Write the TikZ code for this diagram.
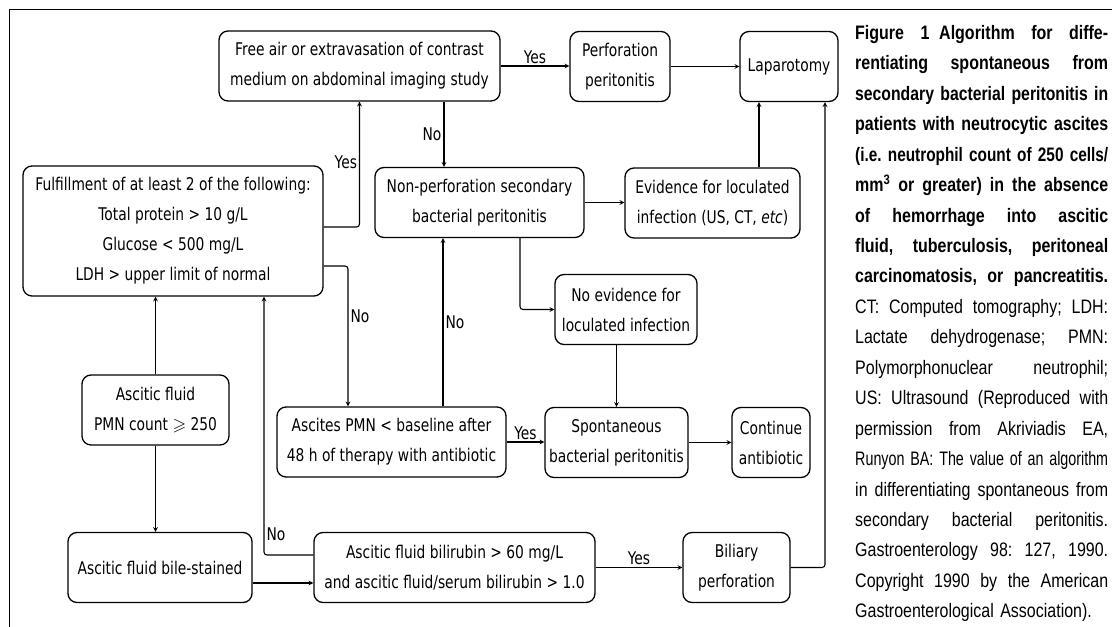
\documentclass[tikz,border=0pt]{standalone}
\usepackage{fontspec}
\usepackage{amssymb}
\usepackage{graphicx}
\setmainfont{DejaVu Sans}[FakeStretch=0.79]
\newfontfamily\capfont{Liberation Sans}[FakeStretch=0.82]
\newlength\capw
\setlength\capw{253pt}
\newsavebox\capbox
\newcommand\capline[1]{\sbox\capbox{#1}\hbox to\capw{\ifdim\wd\capbox>\capw
  \resizebox{\capw}{\height}{\usebox\capbox}\else
  \spaceskip=0.25em plus 1fil\relax #1\fi}}
\tikzset{box/.style={draw, rounded corners=9pt, line width=1.3pt, align=center,
   inner sep=2pt, minimum height=70pt},
 link/.style={->, line width=1.1pt, rounded corners=3pt},
 lbl/.style={inner sep=2pt},
 capt/.style={anchor=north west, inner sep=0pt, text width=\capw,
   font=\capfont\fontsize{19.5}{30.45}\selectfont\frenchspacing},
}

\begin{document}
\begin{tikzpicture}[x=1pt, y=-1pt, >=stealth,
    every node/.style={font=\fontsize{17.5}{30}\selectfont}]
    \useasboundingbox (0,0) rectangle (1112,627);
    \draw[line width=1.5pt] (9.5,627) -- (9.5,9.5) -- (1112,9.5);

    \node[box, minimum width=281pt] (free) at (359.5,66) {Free air or extravasation of contrast\\medium on abdominal imaging study};
    \node[box, minimum width=100pt] (perf) at (620,66.5) {Perforation\\peritonitis};
    \node[box, minimum width=98pt] (lap) at (789,66.5) {Laparotomy};
    \node[box, minimum width=300pt, minimum height=130pt] (crit) at (173,231) {Fulfillment of at least 2 of the following:\\Total protein > 10 g/L\\Glucose < 500 mg/L\\LDH > upper limit of normal};
    \node[box, minimum width=209pt] (nonperf) at (479.5,202.5) {Non-perforation secondary\\bacterial peritonitis};
    \node[box, minimum width=175pt] (evid) at (712.5,203) {Evidence for loculated\\infection (US, CT, \textit{etc})};
    \node[box, minimum width=142pt] (noevid) at (626,309.5) {No evidence for\\loculated infection};
    \node[box, minimum width=147pt] (pmn) at (155.5,410) {Ascitic fluid\\PMN count $\geqslant$ 250};
    \node[box, minimum width=229pt] (repeat) at (391.5,442) {Ascites PMN < baseline after\\48 h of therapy with antibiotic};
    \node[box, minimum width=143pt] (sbp) at (616.5,442.5) {Spontaneous\\bacterial peritonitis};
    \node[box, minimum width=78pt] (cont) at (771,442.5) {Continue\\antibiotic};
    \node[box, minimum width=184pt] (bile) at (160,567.5) {Ascitic fluid bile-stained};
    \node[box, minimum width=281pt] (bili) at (454.5,567.5) {Ascitic fluid bilirubin > 60 mg/L\\and ascitic fluid/serum bilirubin > 1.0};
    \node[box, minimum width=107pt] (biliary) at (736.5,567.5) {Biliary\\perforation};

    \draw[link] (free.east) -- node[lbl, above] {Yes} (free.east -| perf.west);
    \draw[link] (perf) -- (lap);
    \draw[link] ([yshift=4pt]crit.east) -| node[lbl, pos=0.76, left] {Yes} (free.south);
    \draw[link] ([yshift=-35pt]crit.east) -| node[lbl, pos=0.68, right] {No} ([xshift=-43.5pt]repeat.north);
    \draw[link] ([xshift=84.5pt]free.south) -- node[lbl, left] {No} ([xshift=84.5pt]free.south |- nonperf.north);
    \draw[link] (nonperf.east) -- (nonperf.east -| evid.west);
    \draw[link] ([xshift=46.5pt]evid.north) -- ([xshift=46.5pt]evid.north |- lap.south);
    \draw[link] ([xshift=40.5pt]nonperf.south) |- (noevid.west);
    \draw[link] (noevid.south -| sbp.north) -- (sbp.north);
    \draw[link] ([xshift=51.5pt]repeat.north) -- node[lbl, right] {No} ([xshift=51.5pt]repeat.north |- nonperf.south);
    \draw[link] (repeat.east) -- node[lbl, above] {Yes} (repeat.east -| sbp.west);
    \draw[link] (sbp) -- (cont);
    \draw[link] (pmn.north) -- (pmn.north |- crit.south);
    \draw[link] (pmn.south) -- (pmn.south |- bile.north);
    \draw[link] ([yshift=-15.5pt]bile.east) -- ([yshift=-15.5pt]bile.east -| bili.west);
    \draw[link] ([yshift=12.5pt]bili.west) -| node[lbl, pos=0.54, right] {No} ([xshift=91pt]crit.south);
    \draw[link] (bili) -- node[lbl, above] {Yes} (biliary);
    \draw[link] (biliary.east) -| ([xshift=36pt]lap.south);

    \node[capt] (cap) at (855,25) {\bfseries
      \capline{Figure 1\enspace Algorithm for diffe-}
      \capline{rentiating spontaneous from}
      \capline{secondary bacterial peritonitis in}
      \capline{patients with neutrocytic ascites}
      \capline{(i.e. neutrophil count of 250 cells/}
      \capline{mm\textsuperscript{3} or greater) in the absence}
      \capline{of hemorrhage into ascitic}
      \capline{fluid, tuberculosis, peritoneal}
      \capline{carcinomatosis, or pancreatitis.}
      \mdseries
      \capline{CT: Computed tomography; LDH:}
      \capline{Lactate dehydrogenase; PMN:}
      \capline{Polymorphonuclear neutrophil;}
      \capline{US: Ultrasound (Reproduced with}
      \capline{permission from Akriviadis EA,}
      \capline{Runyon BA: The value of an algorithm}
      \capline{in differentiating spontaneous from}
      \capline{secondary bacterial peritonitis.}
      \capline{Gastroenterology 98: 127, 1990.}
      \capline{Copyright 1990 by the American}
      \hbox{Gastroenterological Association).}};
\end{tikzpicture}
\end{document}
